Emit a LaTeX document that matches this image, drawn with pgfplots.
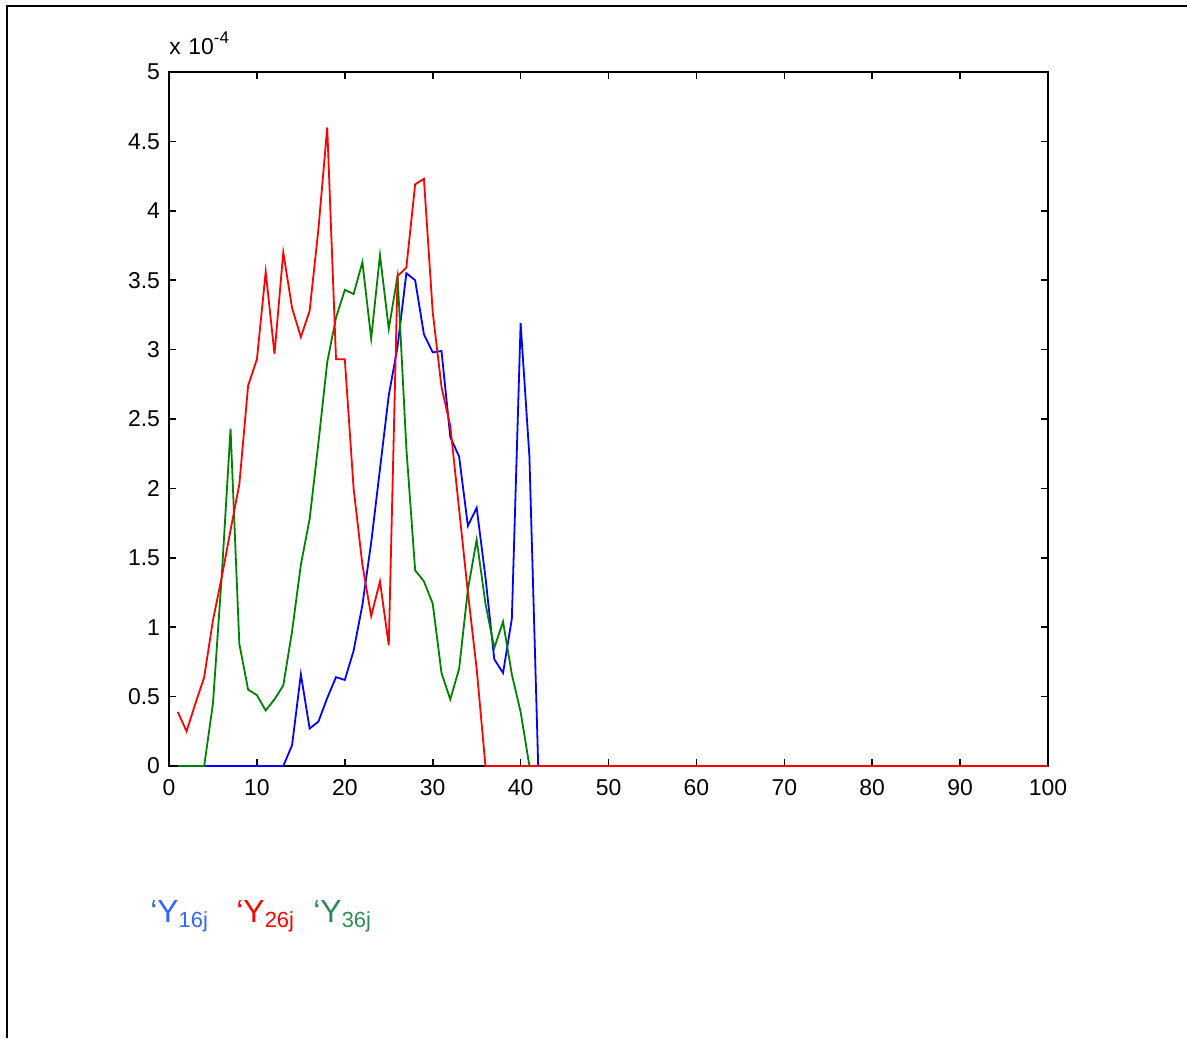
\documentclass[border=0pt]{standalone}
\usepackage{fontspec}
\setmainfont{Liberation Sans}
\usepackage{pgfplots}
\pgfplotsset{compat=1.18}
\definecolor{legblue}{RGB}{51,102,255}
\definecolor{leggreen}{RGB}{46,139,87}
\begin{document}
\begin{tikzpicture}[x=0.5bp,y=0.5bp]
\useasboundingbox (0,0) rectangle (1187,1038);
\draw[line width=1.2bp] (7,0) -- (7,1032) -- (1187,1032);
\begin{axis}[
  at={(84.5bp,136bp)}, anchor=south west,
  scale only axis, width=439.5bp, height=347bp,
  xmin=0, xmax=100, ymin=0, ymax=5,
  xtick={0,10,...,100}, ytick={0,0.5,...,5},
  tick align=inside, major tick length=3.5bp,
  axis line style={line width=1bp}, every tick/.style={black,line width=0.8bp},
  tick label style={font=\fontsize{11.5}{13}\selectfont},
  /pgf/number format/assume math mode=true,
  yticklabel style={xshift=-1bp},
  xticklabel style={yshift=-3bp},
  clip=false,
]
\addplot[blue, line width=0.9bp] coordinates {
(1,0) (13,0) (14,0.15) (15,0.66) (16,0.27) (17,0.32) (18,0.49) (19,0.64) (20,0.62)
(21,0.83) (22,1.16) (23,1.61) (24,2.14) (25,2.67) (26,3.02) (27,3.55) (28,3.50)
(29,3.11) (30,2.98) (31,2.99) (32,2.37) (33,2.23) (34,1.73) (35,1.86) (36,1.36)
(37,0.77) (38,0.67) (39,1.06) (40,3.19) (41,2.23) (42,0) (100,0)};
\addplot[green!50!black, line width=0.9bp] coordinates {
(1,0) (4,0) (5,0.45) (6,1.37) (7,2.43) (8,0.88) (9,0.55) (10,0.51) (11,0.40)
(12,0.48) (13,0.58) (14,0.97) (15,1.45) (16,1.78) (17,2.33) (18,2.91) (19,3.23)
(20,3.43) (21,3.40) (22,3.63) (23,3.08) (24,3.68) (25,3.15) (26,3.53) (27,2.29)
(28,1.41) (29,1.33) (30,1.17) (31,0.67) (32,0.48) (33,0.70) (34,1.27) (35,1.63)
(36,1.17) (37,0.85) (38,1.04) (39,0.66) (40,0.39) (41,0) (100,0)};
\addplot[red, line width=0.9bp] coordinates {
(1,0.39) (2,0.25) (3,0.45) (4,0.64) (5,1.05) (6,1.36) (7,1.70) (8,2.03) (9,2.74)
(10,2.93) (11,3.56) (12,2.97) (13,3.70) (14,3.30) (15,3.09) (16,3.28) (17,3.87)
(18,4.60) (19,2.93) (20,2.93) (21,2.00) (22,1.45) (23,1.08) (24,1.33) (25,0.87)
(26,3.53) (27,3.59) (28,4.19) (29,4.23) (30,3.27) (31,2.73) (32,2.45) (33,1.85)
(34,1.25) (35,0.70) (36,0) (100,0)};
\node[anchor=base west, inner sep=0pt, font=\fontsize{11.5}{13}\selectfont] at (rel axis cs:0,1) [yshift=8.5bp] {x\,\,10\raisebox{5.5bp}{\fontsize{8.5}{10}\selectfont -4}};
\end{axis}
\node[anchor=base west, inner sep=0pt, text=legblue] at (150,116) {{\fontsize{16}{18}\selectfont ‘Y}\raisebox{-2.5bp}{\fontsize{11}{12}\selectfont 16j}};
\node[anchor=base west, inner sep=0pt, text=red] at (236,116) {{\fontsize{16}{18}\selectfont ‘Y}\raisebox{-2.5bp}{\fontsize{11}{12}\selectfont 26j}};
\node[anchor=base west, inner sep=0pt, text=leggreen] at (313,116) {{\fontsize{16}{18}\selectfont ‘Y}\raisebox{-2.5bp}{\fontsize{11}{12}\selectfont 36j}};
\end{tikzpicture}
\end{document}
